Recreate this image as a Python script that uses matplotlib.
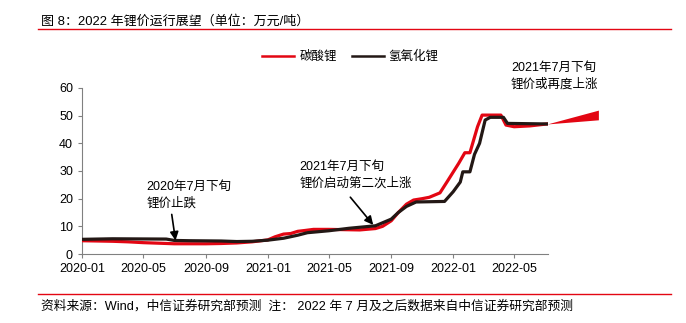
import matplotlib
matplotlib.use("Agg")
import matplotlib.pyplot as plt
import matplotlib.dates as mdates
from matplotlib.lines import Line2D
import pandas as pd

plt.rcParams['font.family'] = ['Liberation Sans', 'Noto Sans CJK SC', 'DejaVu Sans']

# ---- data (万元/吨) ----
carb_dates = ["2020-01-01", "2020-02-01", "2020-03-01", "2020-04-01", "2020-05-01", "2020-06-01",
              "2020-07-01", "2020-08-01", "2020-09-01", "2020-10-01", "2020-11-01", "2020-12-01",
              "2021-01-01", "2021-01-15", "2021-02-01", "2021-02-15", "2021-03-01", "2021-03-15",
              "2021-04-01", "2021-05-01", "2021-06-01", "2021-07-01", "2021-08-01", "2021-08-15",
              "2021-09-01", "2021-09-15", "2021-10-01", "2021-10-15", "2021-11-01", "2021-11-15",
              "2021-12-06", "2021-12-20", "2022-01-12", "2022-01-24", "2022-02-03", "2022-02-18",
              "2022-02-27", "2022-04-05", "2022-04-15", "2022-05-01", "2022-06-01", "2022-07-05"]
carb_values = [4.8, 4.7, 4.6, 4.4, 4.1, 3.9,
               3.7, 3.7, 3.7, 3.8, 4.0, 4.4,
               5.1, 6.2, 7.2, 7.4, 8.2, 8.5,
               8.9, 8.9, 8.8, 8.7, 9.2, 10.0,
               12.0, 15.0, 18.0, 19.5, 20.0, 20.5,
               22.1, 26.1, 32.8, 36.6, 36.6, 46.0,
               50.2, 50.2, 46.6, 46.0, 46.3, 47.0]

hydr_dates = ["2020-01-01", "2020-03-01", "2020-06-15", "2020-07-01", "2020-08-01", "2020-10-01",
              "2020-11-01", "2020-12-01", "2021-01-01", "2021-02-01", "2021-03-01", "2021-03-20",
              "2021-05-01", "2021-06-10", "2021-08-01", "2021-09-01", "2021-09-15", "2021-10-01",
              "2021-10-20", "2021-12-15", "2022-01-01", "2022-01-15", "2022-01-20", "2022-02-03",
              "2022-02-12", "2022-02-22", "2022-03-05", "2022-03-15", "2022-04-10", "2022-04-18",
              "2022-07-05"]
hydr_values = [5.3, 5.5, 5.4, 4.9, 4.8, 4.7,
               4.5, 4.6, 5.0, 5.7, 6.8, 7.7,
               8.4, 9.3, 10.2, 12.6, 15.0, 17.2,
               18.8, 19.0, 22.5, 26.0, 29.7, 29.7,
               36.0, 40.0, 48.4, 49.4, 49.4, 47.2,
               47.0]

forecast_dates = ["2022-07-05", "2022-10-14"]
forecast_low = [47.0, 48.5]
forecast_high = [47.0, 52.0]

series_names = ["碳酸锂", "氢氧化锂"]
xtick_dates = ["2020-01", "2020-05", "2020-09", "2021-01", "2021-05", "2021-09", "2022-01", "2022-05"]
yticks = [0, 10, 20, 30, 40, 50, 60]

title = "图 8：2022 年锂价运行展望（单位：万元/吨）"
footer = "资料来源：Wind，中信证券研究部预测  注： 2022 年 7 月及之后数据来自中信证券研究部预测"
ann1 = "2020年7月下旬\n锂价止跌"
ann2 = "2021年7月下旬\n锂价启动第二次上涨"
ann3 = "2021年7月下旬\n锂价或再度上涨"

RED = "#e30613"
BLACK = "#231815"

fig = plt.figure(figsize=(6.86, 3.23), dpi=100)
ax = fig.add_axes([0.1195, 0.2136, 0.6795, 0.514])

cd = pd.to_datetime(carb_dates)
hd = pd.to_datetime(hydr_dates)
ax.plot(cd, carb_values, color=RED, lw=2.3, solid_joinstyle='round', zorder=3)
ax.plot(hd, hydr_values, color=BLACK, lw=2.3, solid_joinstyle='round', zorder=4)
ax.fill_between(pd.to_datetime(forecast_dates), forecast_low, forecast_high,
                color=RED, lw=0, clip_on=False, zorder=3)

ax.set_xlim(pd.Timestamp("2020-01-01"), pd.Timestamp("2022-07-07"))
ax.set_ylim(0, 60)
ax.set_yticks(yticks)
ax.set_xticks(pd.to_datetime(xtick_dates))
ax.xaxis.set_major_formatter(mdates.DateFormatter("%Y-%m"))
ax.tick_params(axis='both', labelsize=9, colors='#808080', labelcolor='black',
               length=3, width=0.8, direction='out')
for s in ['top', 'right']:
    ax.spines[s].set_visible(False)
for s in ['left', 'bottom']:
    ax.spines[s].set_color('#808080')
    ax.spines[s].set_linewidth(0.8)

# annotations
ax.text(pd.Timestamp("2020-05-07"), 26.5, ann1, fontsize=9, va='top', ha='left', linespacing=1.45)
ax.annotate("", xy=(pd.Timestamp("2020-07-04"), 3.9), xytext=(pd.Timestamp("2020-06-25"), 15.3),
            arrowprops=dict(arrowstyle='-|>,head_length=0.5,head_width=0.25', color='black', lw=1.2),
            zorder=6)
ax.text(pd.Timestamp("2021-03-05"), 33.5, ann2, fontsize=9, va='top', ha='left', linespacing=1.45)
ax.annotate("", xy=(pd.Timestamp("2021-07-31"), 9.75), xytext=(pd.Timestamp("2021-06-09"), 21.3),
            arrowprops=dict(arrowstyle='-|>,head_length=0.5,head_width=0.25', color='black', lw=1.2),
            zorder=6)
ax.text(pd.Timestamp("2022-04-25"), 69.5, ann3, fontsize=9, va='top', ha='left', linespacing=1.45,
        clip_on=False)

# legend
handles = [Line2D([], [], color=RED, lw=1.8), Line2D([], [], color=BLACK, lw=1.8)]
fig.legend(handles, series_names, loc='center', bbox_to_anchor=(0.511, 0.8245), ncol=2,
           frameon=False, fontsize=9, handlelength=2.55, columnspacing=1.2, handletextpad=0.4)

# title and footer
fig.text(0.0598, 0.933, title, fontsize=9.4, ha='left', va='center')
fig.add_artist(Line2D([0.0554, 0.978], [0.909, 0.909], color=RED, lw=1.0, transform=fig.transFigure))
fig.add_artist(Line2D([0.0554, 0.978], [0.0898, 0.0898], color=RED, lw=1.0, transform=fig.transFigure))
fig.text(0.0598, 0.0517, footer, fontsize=9.2, ha='left', va='center')

fig.savefig("out.png", dpi=100)
